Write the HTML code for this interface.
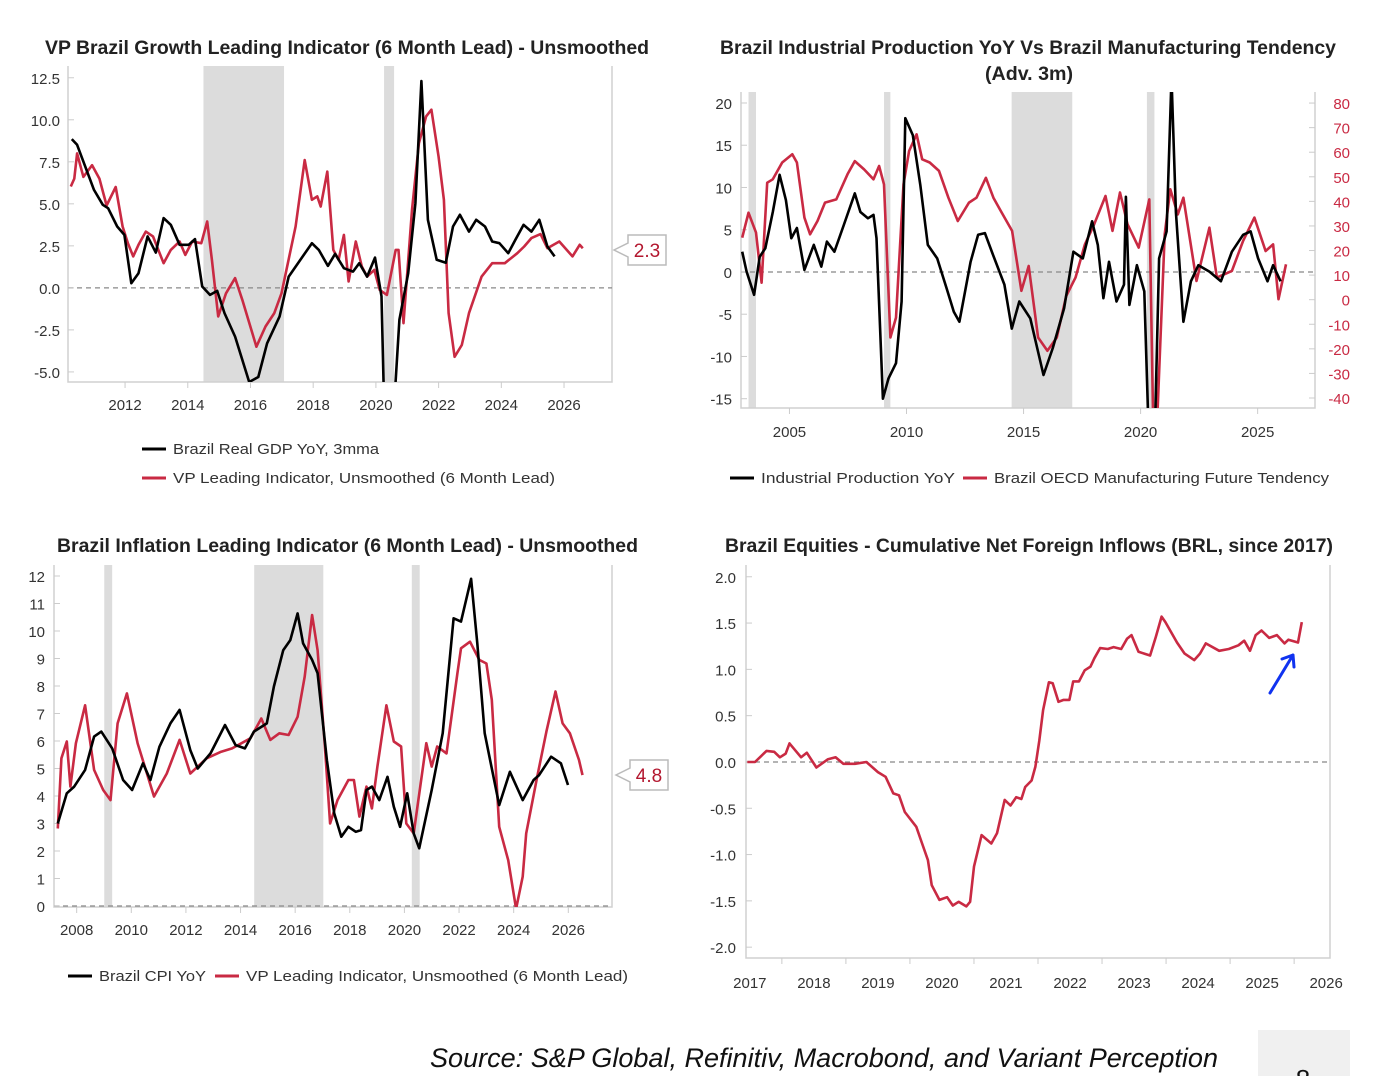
<!DOCTYPE html>
<html><head><meta charset="utf-8"><style>
html,body{margin:0;padding:0;background:#fff;}
svg{display:block;font-family:"Liberation Sans",sans-serif;}
</style></head><body>
<svg id="chart" width="1382" height="1076" viewBox="0 0 1382 1076" xmlns="http://www.w3.org/2000/svg">
<defs>
<clipPath id="c1"><rect x="68" y="66" width="544" height="316"/></clipPath>
<clipPath id="c2"><rect x="741" y="92" width="574" height="316"/></clipPath>
<clipPath id="c3"><rect x="54" y="565" width="558" height="342"/></clipPath>
<clipPath id="c4"><rect x="746" y="565" width="584" height="393"/></clipPath>
</defs>
<g id="root"></g>
<text x="430" y="1067" font-size="27" font-style="italic" fill="#111" textLength="788" lengthAdjust="spacingAndGlyphs">Source: S&amp;P Global, Refinitiv, Macrobond, and Variant Perception</text>
<rect x="1258" y="1030" width="92" height="46" fill="#f0f0f0"/>
<text x="1303" y="1088" font-size="26" text-anchor="middle" fill="#111">8</text>
</svg>
<script>
// ---------- Panel 1 data ----------
const p1GdpYears=[2010.30,2010.47,2011.01,2011.29,2011.46,2011.75,2011.98,2012.2,2012.43,2012.72,2012.98,2013.23,2013.46,2013.74,2014.03,2014.23,2014.46,2014.71,2014.94,2015.17,2015.51,2015.96,2016.25,2016.53,2016.93,2017.22,2017.96,2018.18,2018.47,2018.7,2018.98,2019.27,2019.47,2019.72,2019.97,2020.18,2020.3,2020.55,2020.75,2021.03,2021.26,2021.45,2021.66,2021.94,2022.23,2022.46,2022.68,2022.97,2023.2,2023.48,2023.71,2023.94,2024.22,2024.45,2024.71,2024.96,2025.21,2025.47,2025.7];
const p1Gdp=[8.85,8.51,5.83,4.94,4.74,3.65,3.15,0.28,0.87,3.06,2.1,4.15,3.75,2.56,2.56,2.9,0.08,-0.42,-0.18,-1.5,-2.9,-5.6,-5.3,-3.3,-1.7,0.67,2.66,2.26,1.31,2.02,1.17,0.97,1.47,0.67,1.8,-0.5,-10,-8,-1.9,0.87,5.04,12.3,4.05,1.67,1.5,3.65,4.35,3.35,4.05,3.65,2.76,2.66,2.06,2.86,3.75,3.35,4.05,2.46,1.87];
const p1LeadYears=[2010.27,2010.38,2010.47,2010.67,2010.95,2011.18,2011.41,2011.7,2011.92,2012.09,2012.26,2012.43,2012.66,2012.89,2013.23,2013.46,2013.74,2013.92,2014.14,2014.43,2014.62,2014.77,2014.97,2015.22,2015.51,2015.74,2016.19,2016.48,2016.76,2016.99,2017.44,2017.73,2017.96,2018.13,2018.24,2018.45,2018.64,2018.81,2018.98,2019.13,2019.36,2019.55,2019.72,2019.95,2020.12,2020.35,2020.63,2020.72,2020.88,2021.15,2021.37,2021.6,2021.77,2022.0,2022.17,2022.32,2022.51,2022.74,2022.97,2023.37,2023.71,2024.11,2024.51,2024.73,2024.96,2025.25,2025.47,2025.85,2026.27,2026.5,2026.6];
const p1Lead=[6.03,6.5,8.0,6.6,7.3,6.5,4.9,6.0,3.65,2.66,1.87,2.56,3.35,3.06,1.47,2.26,2.76,1.96,2.76,2.66,3.95,1.67,-1.7,-0.32,0.58,-0.71,-3.5,-2.3,-1.5,-0.32,3.65,7.6,5.24,5.44,4.84,6.92,2.26,1.67,3.15,0.38,2.76,1.27,0.67,1.07,-0.12,-0.42,2.26,2.26,-2.1,4.64,8.6,10.2,10.6,7.8,5.24,-1.5,-4.1,-3.4,-1.5,0.67,1.47,1.47,2.06,2.46,2.96,3.2,2.36,2.76,1.87,2.56,2.36];
const p1Shade=[[2014.5,2017.07],[2020.26,2020.58]];
const p1YTicks=[12.5,10,7.5,5,2.5,0,-2.5,-5];
const p1YLabels=["12.5","10.0","7.5","5.0","2.5","0.0","-2.5","-5.0"];
const p1XTicks=[2012,2014,2016,2018,2020,2022,2024,2026];

// ---------- Panel 2 data ----------
const p2IpYears=[2002.98,2003.17,2003.49,2003.73,2003.97,2004.29,2004.58,2004.85,2005.08,2005.32,2005.64,2006.04,2006.36,2006.6,2006.92,2007.32,2007.79,2008.03,2008.35,2008.59,2008.72,2008.99,2009.23,2009.55,2009.79,2009.95,2010.27,2010.59,2010.91,2011.31,2011.71,2012.02,2012.26,2012.42,2012.74,2013.06,2013.35,2013.7,2014.18,2014.5,2014.82,2015.29,2015.85,2016.25,2016.73,2017.13,2017.53,2017.93,2018.17,2018.41,2018.65,2018.97,2019.29,2019.37,2019.52,2019.84,2020.16,2020.32,2020.63,2020.79,2021.11,2021.32,2021.51,2021.83,2022.15,2022.47,2022.94,2023.43,2023.9,2024.38,2024.7,2025.02,2025.42,2025.66,2025.98];
const p2Ip=[2.4,0.04,-2.7,1.8,2.8,7.1,11.5,8.5,4.0,5.2,0.24,3.2,0.63,3.6,2.4,5.56,9.3,7.1,6.35,6.75,4.0,-15,-12.6,-10.8,-3.5,18.2,16.2,10.3,3.2,1.6,-1.9,-4.7,-5.9,-3.5,1.2,4.4,4.6,2.0,-1.5,-6.7,-3.5,-5.5,-12.2,-9.0,-4.3,2.4,1.6,6.0,3.2,-3.1,1.2,-3.5,-1.5,8.9,-3.9,0.8,-2.3,-17,-17,1.6,4.8,23,7.1,-5.9,-1.1,0.8,0.04,-1.1,2.4,4.4,4.8,1.6,-1.1,0.8,-1.1];
const p2OecdYears=[2002.98,2003.25,2003.57,2003.81,2004.05,2004.29,2004.69,2005.12,2005.32,2005.64,2005.88,2006.2,2006.52,2007.0,2007.48,2007.79,2008.19,2008.59,2008.83,2009.04,2009.31,2009.55,2009.87,2010.11,2010.43,2010.67,2010.99,2011.39,2011.79,2012.19,2012.67,2012.99,2013.39,2013.71,2014.03,2014.51,2014.91,2015.22,2015.62,2016.02,2016.42,2016.82,2017.22,2017.62,2018.02,2018.5,2018.8,2019.12,2019.44,2019.92,2020.37,2020.53,2020.72,2021.03,2021.27,2021.59,2021.83,2022.39,2022.94,2023.26,2023.9,2024.38,2024.86,2025.34,2025.66,2025.89,2026.21];
const p2Oecd=[25.2,35.4,27.3,6.9,47.6,49,55.8,59.2,55.8,33.4,26.6,32,39.5,40.8,51,56.4,53,49,54.4,46.9,-15.4,-7.3,46.9,60.5,67.3,57.1,55.8,52.4,41.5,32,39.5,41.5,49.6,41.5,36.1,28,3.6,13.7,-15.4,-20.8,-15.4,1.5,9.0,22.5,30.7,42.2,28,43.6,30.7,21.2,40.8,-46,-46,26.6,44.9,34.7,41.5,7.6,29.3,9.0,11.7,23.9,33.4,19.8,22.5,0.2,14.4];
const p2Shade=[[2003.25,2003.57],[2009.04,2009.31],[2014.49,2017.08],[2020.27,2020.59]];
const p2YTicks=[20,15,10,5,0,-5,-10,-15];
const p2YLabels=["20","15","10","5","0","-5","-10","-15"];
const p2RTicks=[80,70,60,50,40,30,20,10,0,-10,-20,-30,-40];
const p2RLabels=["80","70","60","50","40","30","20","10","0","-10","-20","-30","-40"];
const p2XTicks=[2005,2010,2015,2020,2025];

// ---------- Panel 3 data ----------
const p3CpiYears=[2007.31,2007.64,2007.91,2008.31,2008.64,2008.9,2009.3,2009.7,2010.03,2010.43,2010.7,2011.03,2011.43,2011.77,2012.16,2012.43,2012.9,2013.43,2013.82,2014.16,2014.49,2014.96,2015.22,2015.56,2015.82,2016.09,2016.29,2016.62,2016.82,2017.16,2017.43,2017.69,2017.95,2018.22,2018.41,2018.61,2018.81,2019.08,2019.38,2019.61,2019.84,2020.1,2020.34,2020.54,2021.0,2021.4,2021.8,2022.07,2022.44,2022.67,2022.94,2023.47,2023.86,2024.33,2024.73,2024.93,2025.37,2025.73,2025.99];
const p3Cpi=[3.0,4.1,4.34,4.95,6.16,6.34,5.73,4.58,4.22,5.19,4.58,5.79,6.64,7.13,5.67,5.0,5.55,6.58,5.85,5.73,6.34,6.64,7.98,9.3,9.67,10.64,9.55,8.95,8.46,5.3,3.37,2.52,2.88,2.7,2.76,4.22,4.34,3.85,4.7,3.61,2.88,4.1,2.64,2.1,4.22,6.28,10.46,10.34,11.9,9.55,6.28,3.67,4.88,3.85,4.58,4.76,5.43,5.19,4.4];
const p3LeadYears=[2007.31,2007.44,2007.64,2007.77,2007.97,2008.31,2008.64,2008.97,2009.24,2009.5,2009.84,2010.23,2010.83,2011.3,2011.77,2012.16,2012.76,2013.29,2013.69,2014.36,2014.76,2015.09,2015.42,2015.76,2016.09,2016.35,2016.62,2016.82,2017.09,2017.28,2017.55,2017.95,2018.15,2018.35,2018.61,2018.81,2019.01,2019.34,2019.61,2019.88,2020.07,2020.34,2020.8,2021.0,2021.2,2021.54,2021.94,2022.07,2022.4,2022.74,2023.0,2023.2,2023.47,2023.8,2024.09,2024.33,2024.46,2024.86,2025.2,2025.53,2025.79,2026.06,2026.39,2026.52];
const p3Lead=[2.82,5.37,5.98,4.34,5.92,7.3,4.95,4.22,3.85,6.64,7.73,5.92,3.98,4.82,6.04,4.82,5.37,5.61,5.73,6.1,6.82,6.04,6.28,6.22,6.88,8.34,10.58,9.3,5.8,3.0,3.85,4.58,4.58,3.25,4.34,3.55,5.07,7.3,5.98,5.8,3.0,2.64,5.92,5.07,5.8,5.55,8.46,9.37,9.61,8.95,8.82,7.5,2.88,1.67,-0.1,1.07,2.64,4.7,6.34,7.8,6.64,6.28,5.31,4.76];
const p3Shade=[[2009.01,2009.3],[2014.5,2017.03],[2020.27,2020.56]];
const p3YTicks=[12,11,10,9,8,7,6,5,4,3,2,1,0];
const p3XTicks=[2008,2010,2012,2014,2016,2018,2020,2022,2024,2026];

// ---------- Panel 4 data ----------
const p4Years=[2016.96,2017.08,2017.26,2017.38,2017.47,2017.56,2017.62,2017.8,2017.89,2018.04,2018.22,2018.34,2018.46,2018.64,2018.82,2019.0,2019.12,2019.24,2019.33,2019.42,2019.6,2019.69,2019.78,2019.84,2019.96,2020.08,2020.17,2020.26,2020.38,2020.44,2020.5,2020.62,2020.77,2020.86,2020.98,2021.07,2021.16,2021.24,2021.3,2021.4,2021.46,2021.52,2021.58,2021.67,2021.73,2021.82,2021.9,2021.99,2022.05,2022.14,2022.23,2022.32,2022.38,2022.47,2022.59,2022.68,2022.8,2022.89,2022.96,2023.07,2023.25,2023.34,2023.43,2023.49,2023.67,2023.79,2023.94,2024.03,2024.12,2024.33,2024.48,2024.63,2024.72,2024.81,2024.9,2024.99,2025.11,2025.23,2025.35,2025.41,2025.56,2025.62];
const p4Flows=[0,0,0.12,0.11,0.05,0.09,0.2,0.05,0.1,-0.06,0.03,0.05,-0.02,-0.02,0,-0.11,-0.16,-0.34,-0.36,-0.54,-0.7,-0.88,-1.06,-1.33,-1.49,-1.46,-1.55,-1.51,-1.56,-1.51,-1.13,-0.79,-0.88,-0.77,-0.41,-0.47,-0.38,-0.4,-0.27,-0.2,-0.05,0.23,0.56,0.86,0.85,0.65,0.67,0.67,0.87,0.87,0.99,1.03,1.12,1.23,1.22,1.24,1.22,1.33,1.37,1.19,1.15,1.35,1.57,1.51,1.29,1.17,1.1,1.17,1.28,1.2,1.22,1.26,1.31,1.2,1.37,1.42,1.34,1.37,1.28,1.32,1.29,1.51];
const p4YTicks=[2,1.5,1,0.5,0,-0.5,-1,-1.5,-2];
const p4YLabels=["2.0","1.5","1.0","0.5","0.0","-0.5","-1.0","-1.5","-2.0"];
const p4XTicks=[2017,2018,2019,2020,2021,2022,2023,2024,2025,2026];

const RED="#c92a43";
const NS="http://www.w3.org/2000/svg";
const root=document.getElementById('root');
function mk(tag,attrs,parent){const e=document.createElementNS(NS,tag);for(const k in attrs)e.setAttribute(k,attrs[k]);(parent||root).appendChild(e);return e;}
function scale(d0,d1,r0,r1){return v=>r0+(v-d0)/(d1-d0)*(r1-r0);}
function pathD(xs,ys,fx,fy){return xs.map((v,i)=>(i?'L':'M')+fx(v).toFixed(1)+','+fy(ys[i]).toFixed(1)).join('');}

function axisFrame(L,R,T,B,name){
  const g=mk('g',{});
  
  
  mk('path',{d:`M${L},${T}V${B}H${R}V${T}`,fill:'none',stroke:'#d0d0d0','stroke-width':1.5},g);
}
function shades(arr,fx,T,B,clip,name){
  arr.forEach(s=>{
    const r=mk('rect',{x:fx(s[0]),y:T,width:fx(s[1])-fx(s[0]),height:B-T,fill:'#dcdcdc','clip-path':clip});
    
    
  });
}
function dashedZero(L,R,y,name){
  const l=mk('line',{x1:L,x2:R,y1:y,y2:y,stroke:'#888','stroke-width':1.3,'stroke-dasharray':'5,4'});
  
  
}
function line(xs,ys,fx,fy,color,clip,name){
  const p=mk('path',{d:pathD(xs,ys,fx,fy),fill:'none',stroke:color,'stroke-width':2.6,'stroke-linejoin':'round','clip-path':clip});
  
  
}
function txt(x,y,s,attrs,name){
  const t=mk('text',Object.assign({x:x,y:y,'font-size':15,fill:'#333'},attrs||{}));
  t.textContent=s;
  
  
  return t;
}
function title(x,y,s,w,name){
  const t=mk('text',{x:x,y:y,'font-size':19,'font-weight':'bold',fill:'#222',textLength:w,lengthAdjust:'spacingAndGlyphs'});
  t.textContent=s;
  
  
}
function legend(x1,y,s,color,w,name){
  const l=mk('line',{x1:x1,x2:x1+24,y1:y,y2:y,stroke:color,'stroke-width':3});
  
  
  const t=mk('text',{x:x1+31,y:y+5,'font-size':15,fill:'#333',textLength:w,lengthAdjust:'spacingAndGlyphs'});
  t.textContent=s;
  
  
}
function tag(x,y,s,name){
  const g=mk('g',{});
  
  
  mk('path',{d:`M${x},${y-15}H${x+38}V${y+15}H${x}V${y+7}L${x-14},${y}L${x},${y-7}Z`,fill:'#fff',stroke:'#bbb','stroke-width':1.5},g);
  const t=mk('text',{x:x+19,y:y+7,'font-size':19,fill:'#b3172f','text-anchor':'middle'},g);
  t.textContent=s;
}

// ===== Panel 1 =====
(function(){
  const L=68,R=612,T=66,B=382;
  const fx=scale(2010.18,2027.53,L,R), fy=scale(-5.6,13.2,B,T);
  title(45,54,"VP Brazil Growth Leading Indicator (6 Month Lead) - Unsmoothed",604,'growth-chart-title');
  shades(p1Shade,fx,T,B,'url(#c1)','growth');
  axisFrame(L,R,T,B,'growth');
  dashedZero(L,R,fy(0),'growth');
  p1YTicks.forEach((v,i)=>{txt(60,fy(v)+6,p1YLabels[i],{'text-anchor':'end'},'growth-y-tick-label');
    const k=mk('line',{x1:L,x2:L+6,y1:fy(v),y2:fy(v),stroke:'#ccc'});});
  p1XTicks.forEach(v=>{txt(fx(v),410,String(v),{'text-anchor':'middle'},'growth-x-tick-label');
    const k=mk('line',{x1:fx(v),x2:fx(v),y1:B,y2:B+6,stroke:'#ccc'});});
  line(p1LeadYears,p1Lead,fx,fy,RED,'url(#c1)','growth-leading-indicator-line');
  line(p1GdpYears,p1Gdp,fx,fy,'#000','url(#c1)','gdp-yoy-line');
  tag(628,250,"2.3",'growth-latest-value-tag');
  legend(142,449,"Brazil Real GDP YoY, 3mma",'#000',206,'legend-gdp');
  legend(142,478,"VP Leading Indicator, Unsmoothed (6 Month Lead)",RED,382,'legend-growth-leading');
})();

// ===== Panel 2 =====
(function(){
  const L=741,R=1315,T=92,B=408;
  const fx=scale(2002.93,2027.45,L,R), fy=scale(-16.1,21.3,B,T), fr=scale(-44.07,84.5,B,T);
  title(720,54,"Brazil Industrial Production YoY Vs Brazil Manufacturing Tendency",616,'ip-chart-title');
  title(985,80,"(Adv. 3m)",88,'ip-chart-title-line2');
  shades(p2Shade,fx,T,B,'url(#c2)','ip');
  axisFrame(L,R,T,B,'ip');
  dashedZero(L,R,fy(0),'ip');
  p2YTicks.forEach((v,i)=>{txt(732,fy(v)+6,p2YLabels[i],{'text-anchor':'end'},'ip-left-y-tick-label');
    const k=mk('line',{x1:L,x2:L+6,y1:fy(v),y2:fy(v),stroke:'#ccc'});});
  p2RTicks.forEach((v,i)=>{txt(1350,fr(v)+6,p2RLabels[i],{'text-anchor':'end',fill:RED},'ip-right-y-tick-label');
    const k=mk('line',{x1:R-6,x2:R,y1:fr(v),y2:fr(v),stroke:'#ccc'});});
  p2XTicks.forEach(v=>{txt(fx(v),437,String(v),{'text-anchor':'middle'},'ip-x-tick-label');
    const k=mk('line',{x1:fx(v),x2:fx(v),y1:B,y2:B+6,stroke:'#ccc'});});
  line(p2OecdYears,p2Oecd,fx,fr,RED,'url(#c2)','oecd-tendency-line');
  line(p2IpYears,p2Ip,fx,fy,'#000','url(#c2)','industrial-production-line');
  legend(730,478,"Industrial Production YoY",'#000',194,'legend-industrial-production');
  legend(963,478,"Brazil OECD Manufacturing Future Tendency",RED,335,'legend-oecd-tendency');
})();

// ===== Panel 3 =====
(function(){
  const L=54,R=612,T=565,B=907;
  const fx=scale(2007.17,2027.6,L,R), fy=scale(0,12.4,906,T);
  title(57,552,"Brazil Inflation Leading Indicator (6 Month Lead) - Unsmoothed",581,'inflation-chart-title');
  shades(p3Shade,fx,T,B,'url(#c3)','inflation');
  axisFrame(L,R,T,B,'inflation');
  dashedZero(L,R,fy(0),'inflation');
  p3YTicks.forEach(v=>{txt(45,fy(v)+6,String(v),{'text-anchor':'end'},'inflation-y-tick-label');
    const k=mk('line',{x1:L,x2:L+6,y1:fy(v),y2:fy(v),stroke:'#ccc'});});
  p3XTicks.forEach(v=>{txt(fx(v),935,String(v),{'text-anchor':'middle'},'inflation-x-tick-label');
    const k=mk('line',{x1:fx(v),x2:fx(v),y1:B,y2:B+6,stroke:'#ccc'});});
  line(p3LeadYears,p3Lead,fx,fy,RED,'url(#c3)','inflation-leading-indicator-line');
  line(p3CpiYears,p3Cpi,fx,fy,'#000','url(#c3)','cpi-yoy-line');
  tag(630,775,"4.8",'inflation-latest-value-tag');
  legend(68,976,"Brazil CPI YoY",'#000',107,'legend-cpi');
  legend(215,976,"VP Leading Indicator, Unsmoothed (6 Month Lead)",RED,382,'legend-inflation-leading');
})();

// ===== Panel 4 =====
(function(){
  const L=746,R=1330,T=565,B=958;
  const fx=scale(2016.94,2026.06,L,R), fy=scale(-2.117,2.127,B,T);
  title(725,552,"Brazil Equities - Cumulative Net Foreign Inflows (BRL, since 2017)",608,'equities-chart-title');
  axisFrame(L,R,T,B,'equities');
  dashedZero(L,R,fy(0),'equities');
  p4YTicks.forEach((v,i)=>{txt(736,fy(v)+6,p4YLabels[i],{'text-anchor':'end'},'equities-y-tick-label');
    const k=mk('line',{x1:L,x2:L+6,y1:fy(v),y2:fy(v),stroke:'#ccc'});});
  p4XTicks.forEach(v=>{txt(fx(v),988,String(v),{'text-anchor':'middle'},'equities-x-tick-label');
    if(fx(v+0.5)<R){const k=mk('line',{x1:fx(v+0.5),x2:fx(v+0.5),y1:B,y2:B+6,stroke:'#ccc'});}});
  line(p4Years,p4Flows,fx,fy,RED,'url(#c4)','foreign-inflows-line');
  const a=mk('g',{});
  
  
  mk('path',{d:'M1270,693L1293,655M1282,659L1293,655L1294,667',fill:'none',stroke:'#1033f0','stroke-width':3,'stroke-linecap':'round','stroke-linejoin':'round'},a);
})();
</script>
</body></html>
